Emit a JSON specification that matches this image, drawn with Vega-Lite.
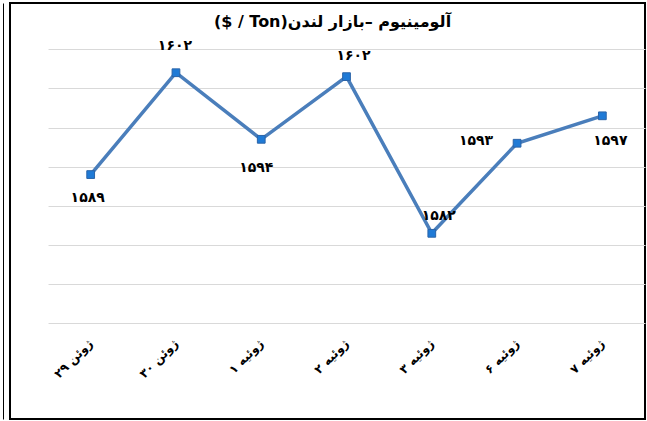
{
  "$schema": "https://vega.github.io/schema/vega-lite/v6.json",
  "width": 635,
  "height": 416,
  "autosize": {"type": "none"},
  "padding": {"left": 10, "top": 3, "right": 2, "bottom": 2},
  "background": "white",
  "config": {
    "view": {"stroke": "black", "strokeWidth": 2, "fill": "white"},
    "font": "DejaVu Sans"
  },
  "title": {
    "text": "($ / Ton)آلومینیوم –بازار لندن",
    "fontSize": 16,
    "fontWeight": "bold",
    "font": "DejaVu Sans",
    "color": "black",
    "anchor": "middle",
    "offset": -27,
    "dx": 5
  },
  "data": {
    "values": [
      {"d": "ژوئن ۲۹", "v": 1589, "t": "۱۵۸۹"},
      {"d": "ژوئن ۳۰", "v": 1602, "t": "۱۶۰۲"},
      {"d": "ژوئیه ۱", "v": 1593.5, "t": "۱۵۹۴"},
      {"d": "ژوئیه ۲", "v": 1601.5, "t": "۱۶۰۲"},
      {"d": "ژوئیه ۳", "v": 1581.5, "t": "۱۵۸۲"},
      {"d": "ژوئیه ۶", "v": 1593, "t": "۱۵۹۳"},
      {"d": "ژوئیه ۷", "v": 1596.5, "t": "۱۵۹۷"}
    ]
  },
  "encoding": {
    "x": {
      "field": "d",
      "type": "nominal",
      "sort": null,
      "scale": {"type": "band", "paddingInner": 0, "paddingOuter": 0.223, "align": 1},
      "axis": {
        "title": null,
        "orient": "bottom",
        "offset": -96,
        "domain": false,
        "ticks": false,
        "grid": false,
        "labelAngle": -45,
        "labelAlign": "right",
        "labelBaseline": "middle",
        "labelPadding": 18,
        "labelFont": "DejaVu Sans",
        "labelFontSize": 12,
        "labelFontWeight": "bold",
        "labelColor": "black"
      }
    },
    "y": {
      "field": "v",
      "type": "quantitative",
      "scale": {"domain": [1557.8, 1610.9], "nice": false, "zero": false},
      "axis": {
        "title": null,
        "labels": false,
        "ticks": false,
        "domain": true,
        "domainColor": "black",
        "domainWidth": 1,
        "offset": 7,
        "grid": true,
        "gridColor": "#d9d9d9",
        "gridWidth": 1,
        "values": [1570, 1575, 1580, 1585, 1590, 1595, 1600, 1605],
        "encoding": {
          "grid": {"x": {"value": {"expr": "scale('x', 'ژوئن ۲۹') + 7"}}}
        }
      }
    }
  },
  "layer": [
    {"mark": {"type": "line", "color": "#4a7ebb", "strokeWidth": 3.5}},
    {"mark": {"type": "point", "shape": "square", "filled": true, "size": 60, "color": "#1f7ad6", "stroke": "#2b64a8", "strokeWidth": 1, "opacity": 1}},
    {
      "transform": [{"filter": "datum.d == 'ژوئن ۲۹'"}],
      "mark": {"type": "text", "font": "DejaVu Sans", "fontWeight": "bold", "fontSize": 14, "color": "black", "dx": -3, "dy": 23},
      "encoding": {"text": {"field": "t"}}
    },
    {
      "transform": [{"filter": "datum.d == 'ژوئن ۳۰'"}],
      "mark": {"type": "text", "font": "DejaVu Sans", "fontWeight": "bold", "fontSize": 14, "color": "black", "dx": -1, "dy": -27},
      "encoding": {"text": {"field": "t"}}
    },
    {
      "transform": [{"filter": "datum.d == 'ژوئیه ۱'"}],
      "mark": {"type": "text", "font": "DejaVu Sans", "fontWeight": "bold", "fontSize": 14, "color": "black", "dx": -5, "dy": 29},
      "encoding": {"text": {"field": "t"}}
    },
    {
      "transform": [{"filter": "datum.d == 'ژوئیه ۲'"}],
      "mark": {"type": "text", "font": "DejaVu Sans", "fontWeight": "bold", "fontSize": 14, "color": "black", "dx": 7, "dy": -21},
      "encoding": {"text": {"field": "t"}}
    },
    {
      "transform": [{"filter": "datum.d == 'ژوئیه ۳'"}],
      "mark": {"type": "text", "font": "DejaVu Sans", "fontWeight": "bold", "fontSize": 14, "color": "black", "dx": 7, "dy": -17},
      "encoding": {"text": {"field": "t"}}
    },
    {
      "transform": [{"filter": "datum.d == 'ژوئیه ۶'"}],
      "mark": {"type": "text", "font": "DejaVu Sans", "fontWeight": "bold", "fontSize": 14, "color": "black", "dx": -41, "dy": -2},
      "encoding": {"text": {"field": "t"}}
    },
    {
      "transform": [{"filter": "datum.d == 'ژوئیه ۷'"}],
      "mark": {"type": "text", "font": "DejaVu Sans", "fontWeight": "bold", "fontSize": 14, "color": "black", "dx": 8, "dy": 25},
      "encoding": {"text": {"field": "t"}}
    }
  ]
}
